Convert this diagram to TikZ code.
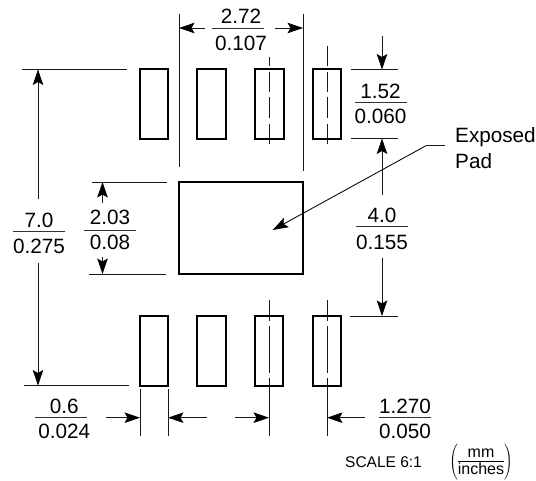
\documentclass[tikz,border=0pt]{standalone}
\usepackage{fontspec}
\setmainfont{Liberation Sans}
\usetikzlibrary{arrows.meta}
\tikzset{
  padbox/.style={draw=black,line width=1.8pt,minimum width=28pt,minimum height=70pt,inner sep=0pt,outer sep=0pt},
  thin line/.style={draw=black!90,line width=0.85pt},
  headtip/.style={-{Stealth[length=15.5pt,width=10.5pt,inset=3pt,black]}},
  dim/.style={thin line,headtip},
  digits/.style={font=\fontsize{20.7}{24}\selectfont,inner sep=0pt},
  fracrule/.style={fill=black!80,minimum width=52pt,minimum height=0.9pt,inner sep=0pt,outer sep=0pt},
  center line/.style={draw=black!90,line width=0.85pt},
}
\newcommand{\fracat}[8]{%
  \node[fracrule] (#1) at (#2,#3) {};
  \node[digits] (#1-t) at (#2+#4,#3+#5) {#7};
  \node[digits] (#1-b) at (#2+#4,#3+#6) {#8};
}
\begin{document}
\begin{tikzpicture}[x=1pt,y=-1pt]
\useasboundingbox (0,0) rectangle (536,481);
% pads
\node[padbox] (t1) at (154,104) {};
\node[padbox,minimum width=29pt] (t2) at (211.5,104) {};
\node[padbox,minimum width=29pt] (t3) at (269.5,104) {};
\node[padbox] (t4) at (327,104) {};
\node[padbox] (b1) at (154,351) {};
\node[padbox,minimum width=29pt] (b2) at (211.5,351) {};
\node[padbox,minimum width=28pt] (b3) at (269,351) {};
\node[padbox] (b4) at (327,351) {};
\node[draw=black,line width=1.8pt,minimum width=124pt,minimum height=92pt,inner sep=0pt,outer sep=0pt] (ep) at (241,228) {};
% centre lines
\draw[center line,dash pattern=on 9pt off 6pt on 20pt off 5pt on 21pt off 6pt on 20pt off 100pt] (269,57) -- (269,144);
\draw[center line,dash pattern=on 20pt off 6pt on 20pt off 5pt on 21pt off 6pt on 20pt off 100pt] (327,46) -- (327,144);
\draw[center line,dash pattern=on 21pt off 5pt on 47pt off 5pt on 58pt off 100pt] (269,300) -- (269,436);
\draw[center line,dash pattern=on 21pt off 5pt on 47pt off 5pt on 58pt off 100pt] (327,300) -- (327,436);
% extension lines top
\draw[thin line] (179,14) -- (179,167);
\draw[thin line] (303,14) -- (303,171);
\coordinate (a1) at (179,28); \coordinate (a2) at (303,28);
\draw[dim] (205,28) -- (a1);
\draw[dim] (275,28) -- (a2);
\fracat{l272}{238}{28}{3}{-12}{15}{2.72}{0.107}
% right dims
\draw[thin line] (351,69.5) -- (398,69.5);
\draw[thin line] (351,138.5) -- (398,138.5);
\coordinate (r1) at (382,69.5); \coordinate (r2) at (382,138.5); \coordinate (r3) at (382,316);
\draw[dim] (382,36) -- (r1);
\draw[dim] (382,195) -- (r2);
\draw[dim] (382,258) -- (r3);
\fracat{l152}{380.5}{102.7}{0}{-11.7}{14}{1.52}{0.060}
\fracat{l40}{382}{226.7}{0}{-11.7}{15.6}{4.0}{0.155}
\draw[thin line] (350,316) -- (398,316);
% left dims
\draw[thin line] (22,69.5) -- (127,69.5);
\draw[thin line] (24,385.5) -- (129,385.5);
\coordinate (l1) at (38,69.5); \coordinate (l2) at (38,385.5);
\draw[dim] (38,199) -- (l1);
\draw[dim] (38,263) -- (l2);
\fracat{l70}{39}{231}{0}{-11}{15}{7.0}{0.275}
\draw[thin line] (92,182) -- (167,182);
\draw[thin line] (89,274) -- (166,274);
\coordinate (m1) at (102.5,182); \coordinate (m2) at (102.5,274);
\draw[dim] (102.5,203) -- (m1);
\draw[dim] (102.5,257) -- (m2);
\fracat{l203}{110}{230}{0}{-12.3}{12.7}{2.03}{0.08}
% bottom dims
\draw[thin line] (140,389) -- (140,436);
\draw[thin line] (168,389) -- (168,436);
\coordinate (c1) at (140,417.7); \coordinate (c2) at (168,417.7); \coordinate (c3) at (269,417.7); \coordinate (c4) at (327,417.7);
\draw[dim] (106,417.7) -- (c1);
\draw[dim] (207,417.7) -- (c2);
\draw[dim] (235,417.7) -- (c3);
\draw[dim] (365,417.7) -- (c4);
\fracat{l06}{60.7}{417.7}{3.5}{-11}{14}{0.6}{0.024}
\fracat{l127}{405}{417.7}{0}{-11.5}{14}{1.270}{0.050}
% exposed pad leader
\node[font=\fontsize{20.7}{26}\selectfont,inner sep=0pt,align=left,anchor=west] (expad) at (455,148) {Exposed\\Pad};
\coordinate (e1) at (426,145.7);
\draw[thin line] (445,145.7) -- (e1);
\draw[draw=black,line width=0.85pt,headtip] (e1) -- (272.7,230);
% scale
\node[font=\fontsize{15.5}{18}\selectfont,inner sep=0pt,anchor=west] (sc) at (345,462.5) {SCALE 6:1};
\node[font=\fontsize{16}{18}\selectfont,inner sep=0pt] (unit) at (481,462.5) {$\left(\vcenter{\hbox{\begin{tabular}{@{}c@{}}mm\\[-2pt]\hline\noalign{\vskip 0.5pt}inches\end{tabular}}}\right)$};
\end{tikzpicture}
\end{document}
